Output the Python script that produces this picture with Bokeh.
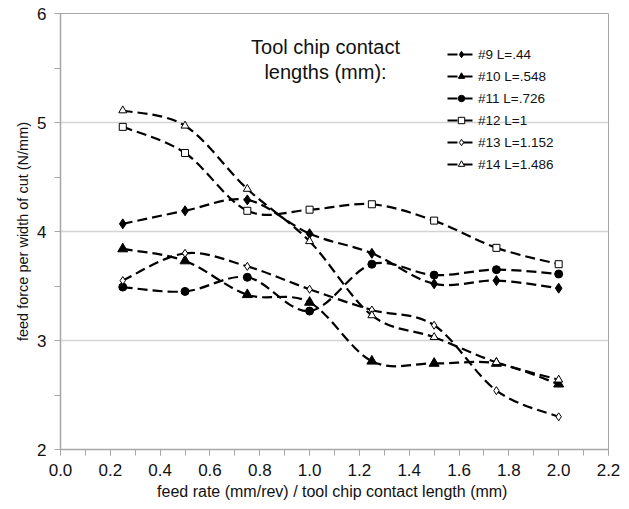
from bokeh.plotting import figure
from bokeh.models import (Range1d, FixedTicker, Legend, LegendItem, Label,
                          ColumnDataSource)
from bokeh.embed import file_html
from bokeh.resources import INLINE

# ---- data ----
feed = [0.25, 0.5, 0.75, 1.0, 1.25, 1.5, 1.75, 2.0]
s9 = [4.07, 4.19, 4.29, 3.98, 3.80, 3.52, 3.55, 3.48]
s10 = [3.84, 3.73, 3.42, 3.35, 2.81, 2.79, 2.79, 2.60]
s11 = [3.49, 3.45, 3.58, 3.27, 3.70, 3.60, 3.65, 3.61]
s12 = [4.96, 4.72, 4.19, 4.20, 4.25, 4.10, 3.85, 3.70]
s13 = [3.55, 3.80, 3.68, 3.47, 3.28, 3.14, 2.54, 2.30]
s14 = [5.11, 4.97, 4.39, 3.91, 3.23, 3.03, 2.80, 2.64]
series_labels = ["#9 L=.44", "#10 L=.548", "#11 L=.726",
                 "#12 L=1", "#13 L=1.152", "#14 L=1.486"]
x_ticks = [0.0, 0.2, 0.4, 0.6, 0.8, 1.0, 1.2, 1.4, 1.6, 1.8, 2.0, 2.2]
x_tick_labels = ["0.0", "0.2", "0.4", "0.6", "0.8", "1.0",
                 "1.2", "1.4", "1.6", "1.8", "2.0", "2.2"]
y_ticks = [2, 3, 4, 5, 6]
note_lines = ["Tool chip contact", "lengths (mm):"]

FONT = "Liberation Sans"
GRAY = "#a6a6a6"

p = figure(width=628, height=508, output_backend="svg", toolbar_location=None,
           x_range=Range1d(0, 2.2), y_range=Range1d(2, 6),
           min_border_left=60, min_border_right=20,
           min_border_top=13, min_border_bottom=59)
p.background_fill_color = "white"
p.border_fill_color = "white"
p.outline_line_color = GRAY
p.outline_line_width = 1

# axes
p.xaxis.ticker = FixedTicker(ticks=x_ticks,
                             minor_ticks=[round(0.1 * i, 1) for i in range(23)])
p.xaxis.major_label_overrides = {t: l for t, l in zip(x_ticks, x_tick_labels)}
p.yaxis.ticker = FixedTicker(ticks=y_ticks, minor_ticks=[2.5, 3.5, 4.5, 5.5])
for ax in (p.xaxis, p.yaxis):
    ax.axis_line_color = GRAY
    ax.axis_line_width = 1.5
    ax.major_tick_line_color = GRAY
    ax.minor_tick_line_color = GRAY
    ax.major_tick_in = 0
    ax.major_tick_out = 6
    ax.minor_tick_in = 0
    ax.minor_tick_out = 6
    ax.major_label_text_font = FONT
    ax.major_label_text_font_size = "17px"
    ax.major_label_text_color = "#111111"
    ax.axis_label_text_font = FONT
    ax.axis_label_text_font_style = "normal"
    ax.axis_label_text_color = "#111111"
p.xaxis.axis_label_text_font_size = "16px"
p.yaxis.axis_label_text_font_size = "14.5px"
p.xaxis.major_label_standoff = 8
p.yaxis.major_label_standoff = 8
p.xaxis.axis_label_standoff = 4
p.yaxis.axis_label_standoff = 3
p.xaxis.axis_label = "feed rate (mm/rev) / tool chip contact length  (mm)"
p.yaxis.axis_label = "feed force per width of cut (N/mm)"

p.xgrid.grid_line_color = None
p.ygrid.grid_line_color = "#d4d4d4"
p.ygrid.grid_line_width = 1.5


def smooth_controls(xs, ys):
    n = len(xs)
    P = list(zip(xs, ys))
    x0, y0, x1, y1, cx0, cy0, cx1, cy1 = ([] for _ in range(8))
    for i in range(n - 1):
        pm = P[i - 1] if i > 0 else P[i]
        pa = P[i]
        pb = P[i + 1]
        pp = P[i + 2] if i + 2 < n else P[i + 1]
        x0.append(pa[0]); y0.append(pa[1])
        x1.append(pb[0]); y1.append(pb[1])
        cx0.append(pa[0] + (pb[0] - pm[0]) / 6.0)
        cy0.append(pa[1] + (pb[1] - pm[1]) / 6.0)
        cx1.append(pb[0] - (pp[0] - pa[0]) / 6.0)
        cy1.append(pb[1] - (pp[1] - pa[1]) / 6.0)
    return dict(x0=x0, y0=y0, x1=x1, y1=y1, cx0=cx0, cy0=cy0, cx1=cx1, cy1=cy1)


styles = [
    dict(marker="diamond", size=10, fill="black"),
    dict(marker="triangle", size=10, fill="black"),
    dict(marker="circle", size=8, fill="black"),
    dict(marker="square", size=7, fill="white"),
    dict(marker="diamond", size=8, fill="white"),
    dict(marker="triangle", size=8, fill="white"),
]
all_series = [s9, s10, s11, s12, s13, s14]

items = []
for ys, st, lab in zip(all_series, styles, series_labels):
    src = ColumnDataSource(smooth_controls(feed, ys))
    b = p.bezier(x0="x0", y0="y0", x1="x1", y1="y1", cx0="cx0", cy0="cy0",
                 cx1="cx1", cy1="cy1", source=src, line_color="black",
                 line_width=2.2, line_dash="10 5")
    s = p.scatter(feed, ys, marker=st["marker"], size=st["size"],
                  fill_color=st["fill"], line_color="black", line_width=1)
    items.append(LegendItem(label=lab, renderers=[b, s]))

legend = Legend(items=items, location=(387, 277), padding=0, margin=0,
                spacing=6, glyph_width=28, glyph_height=16, label_height=16,
                label_standoff=3, label_text_font=FONT,
                label_text_font_size="13.5px", label_text_color="#111111",
                border_line_color=None, background_fill_alpha=0)
p.add_layout(legend)

p.add_layout(Label(x=1.064, y=5.697, text=note_lines[0], text_align="center",
                   text_baseline="middle", text_font=FONT,
                   text_font_size="20px", text_color="#111111"))
p.add_layout(Label(x=1.064, y=5.459, text=note_lines[1], text_align="center",
                   text_baseline="middle", text_font=FONT,
                   text_font_size="20px", text_color="#111111"))

open("out.html", "w").write(file_html(p, INLINE))
